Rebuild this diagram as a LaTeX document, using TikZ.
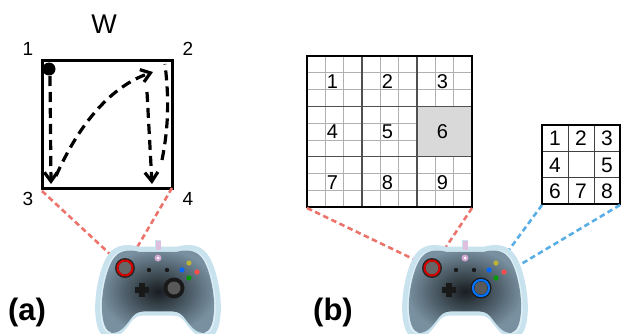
\documentclass[tikz,border=0pt]{standalone}
\usepackage{fontspec}
\setmainfont{Liberation Sans}
\usetikzlibrary{arrows.meta}
\definecolor{linkred}{HTML}{EC736C}
\definecolor{linkblue}{HTML}{5AAEE6}
\definecolor{glowfill}{HTML}{DDEEF6}
\definecolor{glowline}{HTML}{C8E2EE}
\definecolor{bodydark}{HTML}{181D21}
\definecolor{bodylight}{HTML}{7890A0}
\definecolor{cellgray}{HTML}{D9D9D9}
\definecolor{thingrid}{HTML}{B0B0B0}
\definecolor{blockline}{HTML}{505050}
\newcommand\padbody{(-45,-37) .. controls (-55,-28) and (-62,5) .. (-60,25) .. controls (-59,37) and (-56,44) .. (-50,46) .. controls (-42,47) and (-36,40) .. (-30,32) .. controls (-26,26) and (-22,23) .. (-15,23) -- (15,23) .. controls (22,23) and (26,26) .. (30,32) .. controls (36,40) and (42,47) .. (50,46) .. controls (56,44) and (59,37) .. (60,25) .. controls (62,5) and (55,-28) .. (45,-37) .. controls (38,-44) and (28,-43) .. (20,-41) -- (-20,-41) .. controls (-28,-43) and (-38,-44) .. (-45,-37) -- cycle}
\newcommand\mygamepad[2]{%
\begin{scope}[shift={(#1,290)}]
  \fill[glowline] (-3,-50) rectangle (3,-38);
  \fill[glowfill] \padbody;
  \draw[glowline, line width=5pt] \padbody;
  \begin{scope}[scale=0.93]
    \shade[inner color=bodydark, outer color=bodylight] \padbody;
  \end{scope}
  \fill[white!75!violet] (-2.5,-49) rectangle (2.5,-40);
  \fill[white!65!violet] (0,-32) circle (3.5);
  \fill[white] (0,-32) circle (1.5);
  \fill[black!90] (-9,-20) circle (2.2) (9,-20) circle (2.2);
  \coordinate (#2L) at (-33,-22);
  \coordinate (#2R) at (16,-2);
  \fill[black!85] (#2L) circle (10);
  \fill[black!60] (#2L) circle (6.5);
  \fill[black!90] (#2R) circle (10.5);
  \fill[black!65] (#2R) circle (6.5);
  \fill[black!90] (-16,0) ++(-7,-2.6) rectangle ++(14,5.2);
  \fill[black!90] (-16,0) ++(-2.6,-7) rectangle ++(5.2,14);
  \fill[yellow!70!black] (31,-27) circle (2.6);
  \fill[blue!60!cyan] (24,-20) circle (2.6);
  \fill[red!70] (39,-18) circle (2.6);
  \fill[green!60!black] (31,-12) circle (2.6);
\end{scope}}
\begin{document}
\begin{tikzpicture}[x=1pt,y=-1pt,
  traj/.style={line width=3.2pt, dash pattern=on 10pt off 6pt},
  tipV/.style={-{Straight Barb[length=9pt,width=13pt]}},
  redlink/.style={draw=linkred, line width=2.6pt, dash pattern=on 5.5pt off 3.5pt},
  bluelink/.style={draw=linkblue, line width=2.6pt, dash pattern=on 5.5pt off 3.5pt},
  lbl/.style={font=\fontsize{19}{19}\selectfont, inner sep=0pt},
  bignum/.style={font=\fontsize{20}{20}\selectfont, inner sep=0pt},
  smallnum/.style={font=\fontsize{21}{21}\selectfont, inner sep=0pt},
  panel/.style={font=\fontsize{31}{31}\selectfont\bfseries, inner sep=0pt}]
\useasboundingbox (0,0) rectangle (621,334);
\clip (0,0) rectangle (621,334);
% ---------- panel (a) ----------
\node[font=\fontsize{27}{27}\selectfont, inner sep=0pt] (W) at (104,24) {W};
\coordinate (Q1) at (42,61);
\coordinate (Q2) at (172,61);
\coordinate (Q3) at (42,188);
\coordinate (Q4) at (172,188);
\node[lbl] (n1) at (28,49) {1};
\node[lbl] (n2) at (188,49) {2};
\node[lbl] (n3) at (28,199) {3};
\node[lbl] (n4) at (188,199) {4};
\draw[line width=3pt] (Q1) rectangle (Q4);
\fill (49,69) circle (6.5);
\draw[traj, tipV] (50,76) -- (51,184);
\draw[traj, tipV] (56,176) .. controls (80,122) and (112,86) .. (153,72);
\draw[traj, tipV] (147,92) -- (152,184);
\draw[traj] (162,160) .. controls (170,120) and (168,90) .. (165,64);
% ---------- panel (b) grids ----------
\foreach \i in {1,2,4,5,7,8} {
  \draw[thingrid, line width=0.6pt] ({307+\i*55/3},56) -- ({307+\i*55/3},207);
  \draw[thingrid, line width=0.6pt] (307,{56+\i*151/9}) -- (472,{56+\i*151/9});
}
\fill[cellgray] (417,{56+151/3}) rectangle (472,{56+302/3});
\draw[blockline, line width=0.9pt] (417,{56+151/3}) rectangle (472,{56+302/3});
\foreach \i in {1,2} {
  \draw[blockline, line width=1.3pt] ({307+55*\i},56) -- ({307+55*\i},207);
  \draw[blockline, line width=1.3pt] (307,{56+\i*151/3}) -- (472,{56+\i*151/3});
}
\draw[line width=1.5pt] (307,56) rectangle (472,207);
\coordinate (Gsw) at (307,208);
\coordinate (Gse) at (472,208);
\foreach \r in {0,1,2} \foreach \c in {0,1,2} {
  \pgfmathtruncatemacro\k{3*\r+\c+1}
  \node[bignum] (g\k) at ({332.5+55*\c},{81.5+\r*151/3}) {\k};
}
% small grid
\foreach \i in {1,2} {
  \draw[black!75, line width=0.9pt] ({542+\i*26},125) -- ({542+\i*26},204);
  \draw[black!75, line width=0.9pt] (542,{125+\i*79/3}) -- (620,{125+\i*79/3});
}
\draw[line width=1.5pt] (542,125) rectangle (620,204);
\coordinate (Ssw) at (542,205);
\coordinate (Sse) at (620,205);
\node[smallnum] (s1) at (555,138.5) {1};
\node[smallnum] (s2) at (581,138.5) {2};
\node[smallnum] (s3) at (607,138.5) {3};
\node[smallnum] (s4) at (555,165) {4};
\node[smallnum] (s5) at (607,165) {5};
\node[smallnum] (s6) at (555,191.5) {6};
\node[smallnum] (s7) at (581,191.5) {7};
\node[smallnum] (s8) at (607,191.5) {8};
% ---------- connectors (behind pads) ----------
\coordinate (aLc) at (125,268);
\coordinate (bLc) at (432,268);
\coordinate (bRc) at (481,288);
\draw[redlink] (42,191) -- (aLc);
\draw[redlink] (Q4) -- (aLc);
\draw[redlink] (Gsw) -- (bLc);
\draw[redlink] (Gse) -- (bLc);
\draw[bluelink] (Ssw) -- (bRc);
\draw[bluelink] (Sse) -- (bRc);
% ---------- gamepads ----------
\mygamepad{158}{a}
\mygamepad{465}{b}
\draw[draw=red!85!black, line width=2pt] (aL) circle (7.5);
\draw[draw=red!85!black, line width=2pt] (bL) circle (7.5);
\draw[draw=blue!55!cyan, line width=2.2pt] (bR) circle (8);
% ---------- panel labels ----------
\node[panel] (pa) at (27,312) {(a)};
\node[panel] (pb) at (333,312) {(b)};
\end{tikzpicture}
\end{document}
